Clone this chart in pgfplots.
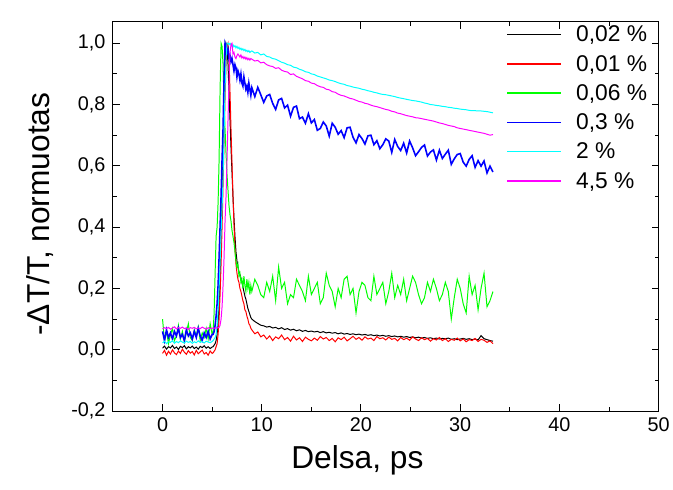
\documentclass[border=0pt]{standalone}
\usepackage{fontspec}
\setmainfont{Liberation Sans}
\usepackage{pgfplots}
\usepackage{pgfplotstable}
\pgfplotsset{compat=1.18}
\definecolor{cblack}{RGB}{0,0,0}
\definecolor{cred}{RGB}{255,0,0}
\definecolor{cgreen}{RGB}{0,255,0}
\definecolor{cblue}{RGB}{0,0,255}
\definecolor{ccyan}{RGB}{0,255,255}
\definecolor{cmag}{RGB}{255,0,255}

\pgfplotstableread{
x bl rd gr bu cy mg
0.0 0.005 -0.012 0.10 0.06 0.022 0.068
0.2 0.012 -0.002 0.03 0.03 0.028 0.072
0.4 0.002 -0.018 0.06 0.065 0.020 0.069
0.6 0.010 -0.005 0.02 0.04 0.026 0.073
0.8 0.006 -0.014 0.05 0.055 0.024 0.067
1.0 0.014 0.000 0.07 0.035 0.030 0.071
1.2 0.004 -0.010 0.03 0.06 0.021 0.075
1.4 0.009 -0.016 0.045 0.045 0.027 0.068
1.6 0.001 -0.004 0.08 0.07 0.023 0.072
1.8 0.011 -0.012 0.035 0.04 0.029 0.070
2.0 0.007 0.002 0.06 0.05 0.025 0.074
2.2 0.013 -0.008 0.025 0.03 0.022 0.069
2.4 0.003 -0.015 0.055 0.065 0.028 0.071
2.6 0.010 -0.003 0.085 0.045 0.024 0.066
2.8 0.006 -0.011 0.04 0.055 0.027 0.072
3.0 0.012 -0.006 0.03 0.035 0.021 0.070
3.2 0.004 -0.017 0.065 0.06 0.026 0.073
3.4 0.009 -0.002 0.045 0.04 0.023 0.068
3.6 0.002 -0.013 0.075 0.07 0.029 0.071
3.8 0.011 -0.007 0.03 0.045 0.024 0.069
4.0 0.007 -0.001 0.055 0.03 0.027 0.074
4.2 0.013 -0.014 0.04 0.055 0.022 0.070
4.4 0.005 -0.009 0.07 0.04 0.028 0.067
4.6 0.010 -0.018 0.035 0.06 0.025 0.072
4.8 0.004 -0.004 0.085 0.035 0.023 0.069
5.0 0.009 -0.012 0.05 0.05 0.027 0.071
5.1 0.010 -0.010 0.06 0.05 0.030 0.070
5.2 0.015 -0.005 0.12 0.06 0.035 0.071
5.3 0.020 0.000 0.25 0.08 0.040 0.070
5.4 0.030 0.010 0.37 0.11 0.050 0.072
5.5 0.050 0.020 0.40 0.15 0.080 0.071
5.6 0.090 0.050 0.48 0.21 0.130 0.072
5.7 0.150 0.100 0.62 0.30 0.200 0.073
5.8 0.240 0.180 0.85 0.40 0.280 0.080
5.9 0.360 0.280 1.00 0.50 0.380 0.100
6.0 0.500 0.400 0.99 0.62 0.460 0.140
6.1 0.640 0.540 0.93 0.72 0.560 0.210
6.2 0.800 0.680 0.80 0.88 0.700 0.300
6.3 0.930 0.820 0.72 1.00 0.850 0.420
6.4 1.000 0.930 0.64 0.99 0.950 0.500
6.5 0.990 0.990 0.57 0.97 1.000 0.620
6.6 0.930 1.000 0.52 0.98 1.000 0.750
6.7 0.840 0.950 0.47 0.95 0.995 0.880
6.8 0.750 0.840 0.44 0.96 1.000 0.970
6.9 0.660 0.720 0.42 0.94 0.995 0.995
7.0 0.580 0.610 0.39 0.95 0.990 1.000
7.1 0.500 0.500 0.37 0.93 0.995 0.965
7.2 0.430 0.410 0.35 0.91 0.988 0.970
7.3 0.370 0.330 0.32 0.93 0.992 0.955
7.4 0.320 0.280 0.29 0.92 0.985 0.950
7.5 0.290 0.250 0.27 0.89 0.990 0.960
7.6 0.270 0.230 0.28 0.91 0.983 0.965
7.7 0.255 0.220 0.24 0.90 0.987 0.960
7.8 0.245 0.200 0.25 0.88 0.980 0.955
7.9 0.235 0.190 0.22 0.90 0.984 0.962
8.0 0.220 0.175 0.23 0.87 0.978 0.952
8.1 0.205 0.160 0.20 0.86 0.982 0.957
8.2 0.190 0.150 0.24 0.89 0.976 0.950
8.3 0.175 0.130 0.21 0.87 0.980 0.955
8.4 0.165 0.125 0.19 0.85 0.974 0.948
8.5 0.150 0.110 0.23 0.86 0.977 0.953
8.6 0.135 0.100 0.20 0.84 0.972 0.946
8.7 0.125 0.085 0.22 0.87 0.976 0.951
8.8 0.115 0.080 0.18 0.85 0.970 0.945
8.9 0.105 0.070 0.21 0.83 0.973 0.950
9.0 0.100 0.065 0.19 0.855 0.975 0.948
9.3 0.092 0.052 0.23 0.826 0.968 0.942
9.6 0.086 0.058 0.21 0.856 0.970 0.944
9.9 0.080 0.042 0.18 0.832 0.962 0.936
10.2 0.078 0.048 0.17 0.807 0.965 0.938
10.5 0.074 0.035 0.22 0.828 0.957 0.930
10.8 0.076 0.045 0.19 0.833 0.955 0.926
11.1 0.071 0.030 0.24 0.804 0.950 0.924
11.4 0.073 0.042 0.16 0.784 0.948 0.918
11.7 0.068 0.036 0.27 0.815 0.943 0.920
12.0 0.072 0.048 0.20 0.820 0.938 0.912
12.3 0.066 0.033 0.22 0.789 0.935 0.908
12.6 0.069 0.040 0.15 0.798 0.930 0.906
12.9 0.064 0.028 0.18 0.762 0.928 0.898
13.2 0.067 0.044 0.17 0.791 0.922 0.900
13.5 0.062 0.032 0.23 0.795 0.920 0.892
13.8 0.065 0.039 0.21 0.754 0.915 0.888
14.1 0.060 0.027 0.19 0.759 0.912 0.884
14.4 0.063 0.041 0.16 0.739 0.907 0.878
14.7 0.059 0.034 0.24 0.770 0.905 0.876
15.0 0.061 0.029 0.18 0.740 0.900 0.870
15.3 0.058 0.038 0.20 0.751 0.898 0.868
15.6 0.060 0.031 0.22 0.716 0.893 0.862
15.9 0.056 0.043 0.15 0.722 0.890 0.858
16.2 0.059 0.035 0.17 0.743 0.887 0.856
16.5 0.055 0.040 0.25 0.730 0.884 0.850
16.8 0.057 0.030 0.21 0.697 0.880 0.848
17.1 0.054 0.037 0.19 0.739 0.878 0.842
17.4 0.056 0.026 0.14 0.726 0.875 0.840
17.7 0.052 0.039 0.20 0.703 0.871 0.834
18.0 0.055 0.033 0.17 0.715 0.868 0.830
18.3 0.051 0.041 0.23 0.692 0.866 0.828
18.6 0.053 0.029 0.24 0.724 0.862 0.824
18.9 0.050 0.036 0.18 0.726 0.860 0.820
19.2 0.052 0.044 0.20 0.693 0.857 0.818
19.5 0.049 0.034 0.12 0.675 0.855 0.814
19.8 0.051 0.040 0.19 0.702 0.853 0.810
20.1 0.048 0.031 0.22 0.689 0.850 0.808
20.4 0.050 0.042 0.21 0.671 0.848 0.804
20.7 0.047 0.035 0.17 0.698 0.845 0.802
21.0 0.049 0.038 0.16 0.700 0.843 0.798
21.3 0.046 0.030 0.24 0.669 0.840 0.795
21.6 0.048 0.043 0.18 0.682 0.838 0.793
21.9 0.045 0.036 0.20 0.656 0.835 0.790
22.2 0.047 0.039 0.22 0.669 0.833 0.787
22.5 0.044 0.032 0.15 0.688 0.832 0.784
22.8 0.046 0.041 0.19 0.681 0.830 0.782
23.1 0.043 0.034 0.25 0.644 0.828 0.778
23.4 0.045 0.037 0.17 0.686 0.826 0.776
23.7 0.042 0.029 0.21 0.663 0.823 0.772
24.0 0.044 0.040 0.18 0.650 0.821 0.770
24.3 0.041 0.033 0.23 0.674 0.819 0.767
24.6 0.043 0.038 0.16 0.642 0.817 0.764
24.9 0.040 0.031 0.20 0.681 0.815 0.762
25.2 0.042 0.042 0.24 0.659 0.813 0.760
25.5 0.039 0.035 0.22 0.633 0.812 0.757
25.8 0.041 0.030 0.18 0.646 0.810 0.756
26.1 0.038 0.039 0.15 0.660 0.808 0.754
26.4 0.040 0.033 0.17 0.668 0.805 0.752
26.7 0.037 0.037 0.22 0.632 0.803 0.750
27.0 0.039 0.028 0.19 0.645 0.800 0.748
27.3 0.036 0.036 0.23 0.652 0.799 0.746
27.6 0.038 0.032 0.20 0.619 0.797 0.743
27.9 0.035 0.040 0.16 0.651 0.796 0.740
28.2 0.037 0.030 0.18 0.624 0.794 0.738
28.5 0.036 0.036 0.22 0.638 0.793 0.735
28.8 0.038 0.027 0.19 0.651 0.791 0.732
29.1 0.034 0.034 0.10 0.605 0.790 0.730
29.4 0.036 0.031 0.17 0.623 0.788 0.728
29.7 0.033 0.038 0.23 0.637 0.787 0.724
30.0 0.035 0.029 0.20 0.640 0.785 0.722
30.3 0.037 0.035 0.15 0.612 0.784 0.720
30.6 0.034 0.026 0.12 0.599 0.783 0.718
30.9 0.036 0.033 0.24 0.621 0.781 0.716
31.2 0.033 0.030 0.18 0.633 0.780 0.714
31.5 0.035 0.037 0.21 0.595 0.780 0.712
31.8 0.032 0.027 0.13 0.617 0.779 0.710
32.1 0.046 0.034 0.20 0.599 0.779 0.708
32.4 0.036 0.031 0.25 0.616 0.778 0.706
32.7 0.033 0.024 0.14 0.577 0.777 0.703
33.0 0.030 0.029 0.16 0.599 0.775 0.700
33.3 0.028 0.020 0.19 0.580 0.773 0.702
}\data

\begin{document}
\begin{tikzpicture}
\begin{axis}[
  scale only axis, width=551pt, height=393pt,
  xmin=-5, xmax=50, ymin=-0.2, ymax=1.07,
  xtick={0,10,20,30,40,50},
  ytick={-0.2,0,0.2,0.4,0.6,0.8,1.0},
  minor xtick={-5,5,15,25,35,45},
  minor ytick={-0.1,0.1,0.3,0.5,0.7,0.9},
  tick align=inside,
  major tick length=7pt, minor tick length=4pt,
  tick style={line width=1pt, black},
  axis line style={line width=1.1pt},
  /pgf/number format/assume math mode=true,
  /pgf/number format/use comma,
  tick label style={font=\fontsize{20}{24}\selectfont},
  yticklabel style={/pgf/number format/fixed, /pgf/number format/precision=1, /pgf/number format/fixed zerofill, xshift=-4pt},
  xticklabel style={yshift=-3pt},
  xlabel={Delsa, ps},
  ylabel={-ΔT/T, normuotas},
  label style={font=\fontsize{32}{36}\selectfont},
  xlabel style={at={(axis description cs:0.448,-0.127)}, anchor=center},
  ylabel style={at={(axis description cs:-0.134,0.506)}, anchor=center},
  legend cell align=left,
  legend style={draw=none, fill=none, at={(axis description cs:0.715,1.0)}, anchor=north west, font=\fontsize{23}{27}\selectfont, row sep=8pt},
  legend image code/.code={\draw[#1, line width=1.5pt] (0pt,0pt) -- (54pt,0pt); \path (67pt,0pt);},
  every axis plot/.append style={line width=1pt},
]
\addplot[cblack, no markers] table[x=x, y=bl] {\data};
\addlegendentry{0,02 \%}
\addplot[cred, no markers] table[x=x, y=rd] {\data};
\addlegendentry{0,01 \%}
\addplot[cgreen, no markers] table[x=x, y=gr] {\data};
\addlegendentry{0,06 \%}
\addplot[cblue, no markers, line width=1.6pt] table[x=x, y=bu] {\data};
\addlegendentry{0,3 \%}
\addplot[ccyan, no markers] table[x=x, y=cy] {\data};
\addlegendentry{2 \%}
\addplot[cmag, no markers] table[x=x, y=mg] {\data};
\addlegendentry{4,5 \%}
\end{axis}
\path ([shift={(-114pt,-79pt)}]current axis.south west) rectangle ([shift={(8pt,22pt)}]current axis.north east);
\end{tikzpicture}
\end{document}
